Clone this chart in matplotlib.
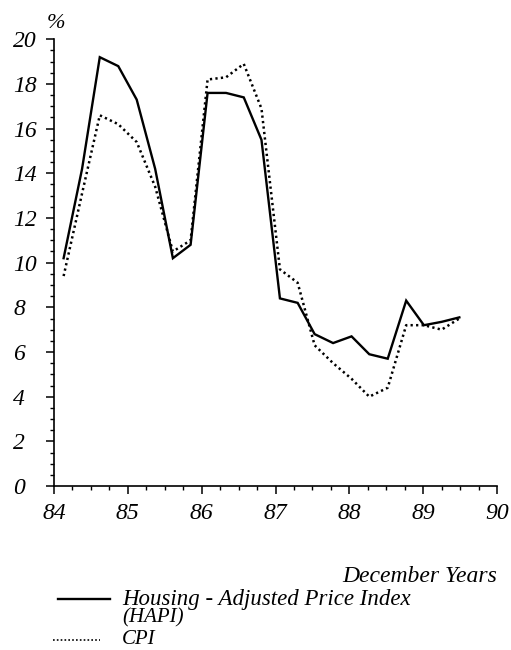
import matplotlib.pyplot as plt
from matplotlib.lines import Line2D
from matplotlib.ticker import MultipleLocator

years = [84.13, 84.38, 84.62, 84.87, 85.12, 85.37, 85.61, 85.85,
         86.08, 86.33, 86.57, 86.81, 87.06, 87.30, 87.53, 87.78,
         88.03, 88.27, 88.52, 88.77, 89.01, 89.25, 89.49]
hapi = [10.2, 14.2, 19.2, 18.8, 17.3, 14.2, 10.2, 10.8,
        17.6, 17.6, 17.4, 15.5, 8.4, 8.2, 6.8, 6.4,
        6.7, 5.9, 5.7, 8.3, 7.2, 7.35, 7.55]
cpi = [9.4, 13.1, 16.6, 16.2, 15.4, 13.4, 10.5, 11.0,
       18.2, 18.3, 18.9, 16.9, 9.7, 9.1, 6.3, 5.5,
       4.8, 4.0, 4.4, 7.2, 7.2, 7.0, 7.5]

xticks = [84, 85, 86, 87, 88, 89, 90]
yticks = [0, 2, 4, 6, 8, 10, 12, 14, 16, 18, 20]

plt.rcParams['font.family'] = 'Liberation Serif'
plt.rcParams['font.style'] = 'italic'

fig = plt.figure(figsize=(5.11, 6.5), dpi=100)
ax = fig.add_axes([0.1057, 0.2523, 0.8669, 0.6872])

ax.plot(years, hapi, color='black', lw=1.7, solid_joinstyle='miter')
ax.plot(years, cpi, color='black', lw=1.8, linestyle=(0, (0.9, 1.3)))

ax.set_xlim(84, 90)
ax.set_ylim(0, 20)
ax.set_xticks(xticks)
ax.set_yticks(yticks)
ax.set_xticklabels([str(v) for v in xticks])
ax.set_yticklabels([str(v) for v in yticks])
ax.xaxis.set_minor_locator(MultipleLocator(0.25))
ax.yaxis.set_minor_locator(MultipleLocator(0.5))

for s in ['top', 'right']:
    ax.spines[s].set_visible(False)
for s in ['left', 'bottom']:
    ax.spines[s].set_linewidth(1.2)

ax.tick_params(which='major', length=6, width=1.1, labelsize=17)
ax.tick_params(which='minor', length=3, width=1)
ax.tick_params(axis='x', which='major', pad=6)
ax.tick_params(axis='y', which='major', pad=23.5)
for lbl in ax.get_yticklabels():
    lbl.set_horizontalalignment('left')

fig.text(56 / 511, 1 - 24 / 650, '%', fontsize=16, ha='center', va='center')
fig.text(497 / 511, 1 - 576 / 650, 'December Years', fontsize=17,
         ha='right', va='center')

# legend drawn by hand
fig.add_artist(Line2D([58 / 511, 110 / 511], [1 - 599 / 650] * 2,
                      color='black', lw=1.7))
fig.add_artist(Line2D([53 / 511, 100 / 511], [1 - 640 / 650] * 2,
                      color='black', lw=1.2, linestyle=(0, (1, 1.3))))
fig.text(122 / 511, 1 - 599 / 650, 'Housing - Adjusted Price Index',
         fontsize=16.5, va='center')
fig.text(122 / 511, 1 - 618 / 650, '(HAPI)', fontsize=15, va='center')
fig.text(122 / 511, 1 - 640 / 650, 'CPI', fontsize=15, va='center')

fig.savefig('out.png', dpi=100)
